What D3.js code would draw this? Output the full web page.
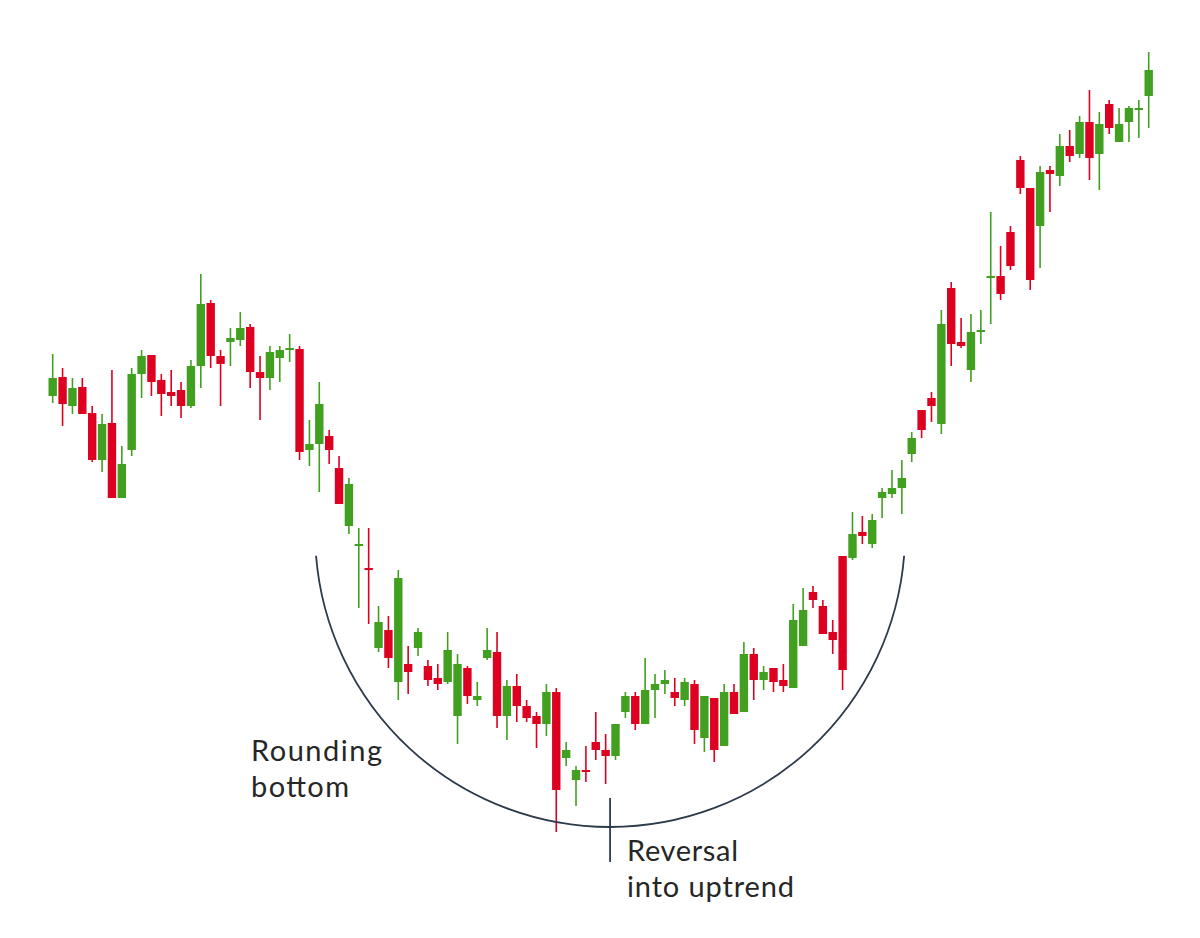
<!DOCTYPE html>
<html>
<head>
<meta charset="utf-8">
<script src="https://cdn.jsdelivr.net/npm/d3@7"></script>
<style>
  html, body { margin: 0; padding: 0; background: #fff; }
  svg { display: block; }
  text { font-family: Lato, "Noto Sans", sans-serif; }
</style>
</head>
<body>
<svg id="chart" width="1200" height="938"></svg>
<script>
// Candle data (price units), one entry per session
const openV  = [50.4,52.3,49.4,51.3,48.7,44.0,47.7,40.2,45.0,52.6,54.5,52.0,50.8,51.0,49.4,53.4,59.7,54.4,55.8,56.0,
                57.3,52.8,52.2,54.2,55.0,55.1,45.0,45.6,46.4,43.2,37.4,35.4,33.2,25.2,27.0,21.8,23.6,25.2,23.4,22.2,
                21.8,18.4,23.2,20.0,24.2,24.8,18.4,21.4,19.4,18.4,17.6,20.8,14.2,12.0,13.0,15.8,15.0,14.4,18.8,20.4,
                17.6,21.0,21.6,20.8,20.0,21.6,16.2,20.2,15.4,20.8,18.8,24.6,22.0,23.2,22.0,21.2,25.4,30.8,29.4,26.8,
                34.4,34.2,36.8,35.6,40.2,40.6,41.2,44.6,49.0,50.2,47.6,61.2,55.8,53.0,56.8,62.2,62.4,66.8,74.0,71.2,
                67.4,73.0,72.4,75.4,74.6,77.8,74.6,79.6,75.8,77.8,79.0,80.4];
const highV  = [54.6,53.2,52.2,52.2,49.4,48.6,53.0,45.4,53.2,55.0,54.5,52.6,53.0,51.8,54.0,62.6,60.0,55.0,57.2,58.8,
                57.6,54.4,55.4,55.4,56.6,55.4,48.0,51.8,47.0,44.4,42.2,37.2,37.2,29.4,28.4,33.0,25.4,27.2,24.0,23.6,
                26.8,24.6,23.4,21.8,27.2,26.8,22.0,22.6,20.0,18.8,21.6,21.2,15.8,13.4,15.4,18.8,16.6,17.6,20.8,20.8,
                24.2,22.6,23.0,22.2,22.2,22.0,20.4,20.2,21.6,21.6,25.8,25.2,23.4,23.2,23.6,29.6,31.2,31.4,30.0,28.0,
                34.4,38.8,38.4,38.6,41.2,43.0,44.0,46.8,49.0,50.8,59.0,61.8,58.2,58.6,59.0,68.8,65.4,67.4,74.4,71.2,
                73.4,73.4,76.6,77.0,78.4,81.0,78.8,80.0,79.2,79.4,80.0,84.8];
const lowV   = [49.7,47.4,48.6,48.6,43.8,42.8,40.2,40.2,44.4,50.2,50.4,48.4,49.4,48.2,49.2,51.2,53.2,49.4,53.4,55.4,
                51.2,48.0,51.0,51.8,53.8,44.0,43.4,40.8,43.6,39.6,36.6,29.2,27.6,24.8,23.2,20.0,20.6,24.4,21.4,21.0,
                21.6,15.6,19.6,19.4,24.0,17.2,16.0,17.8,17.8,15.2,16.4,6.8,13.4,9.4,11.8,14.0,11.6,14.0,18.2,17.0,
                17.6,18.2,20.6,19.4,19.4,15.6,14.8,13.8,15.4,18.6,18.8,20.0,21.0,20.8,20.8,21.2,25.4,29.2,26.6,24.6,
                21.0,34.0,35.6,35.2,38.2,40.2,38.6,43.8,46.2,47.8,46.6,53.4,55.2,51.8,55.6,57.6,60.0,63.0,70.6,61.0,
                63.2,68.8,71.4,73.8,74.2,72.0,71.0,76.6,75.8,75.8,76.2,77.2];
const closeV = [52.2,49.6,51.2,48.6,44.0,47.6,40.2,43.6,52.6,54.4,51.8,50.6,50.4,49.4,53.4,59.6,54.4,53.6,56.2,57.2,
                52.8,52.2,54.8,55.0,55.2,44.8,45.6,49.6,45.0,39.6,41.6,35.6,33.0,27.8,24.2,32.2,22.8,26.8,22.0,21.6,
                25.0,23.6,20.4,20.4,25.0,18.4,21.4,19.4,18.2,17.6,20.8,11.0,15.0,13.0,12.8,15.0,14.4,17.6,20.4,17.6,
                21.0,21.6,22.0,20.2,21.8,17.0,20.4,15.0,20.8,18.6,24.6,22.0,22.8,21.8,21.4,28.0,29.0,30.0,26.6,26.0,
                23.0,36.6,36.4,38.0,40.8,41.2,42.2,46.2,47.0,49.4,57.6,55.6,55.4,56.8,57.0,62.4,60.6,63.4,71.2,62.0,
                72.8,72.6,75.4,74.4,77.8,74.2,77.6,77.2,77.6,79.2,79.2,83.0];

// Annotation labels
const leftLabel  = ["Rounding", "bottom"];
const rightLabel = ["Reversal", "into uptrend"];

const candles = openV.map((o, i) => ({ i, open: o, high: highV[i], low: lowV[i], close: closeV[i] }));

const svg = d3.select("#chart");
const x = d3.scalePoint().domain(d3.range(candles.length)).range([52.7, 1148.7]);
const y = d3.scaleLinear().domain([0, 90]).range([900, 0]);
const step = x.step();
const bodyW = step * 0.85;

const UP = "#41a01f", DOWN = "#dd0020";
const col = d => d.close >= d.open ? UP : DOWN;

const g = svg.append("g");
// wicks
g.selectAll("line.wick").data(candles).join("line")
  .attr("class", "wick")
  .attr("x1", d => x(d.i)).attr("x2", d => x(d.i))
  .attr("y1", d => y(d.high)).attr("y2", d => y(d.low))
  .attr("stroke", col).attr("stroke-width", 1.6);
// bodies
g.selectAll("rect.body").data(candles).join("rect")
  .attr("class", "body")
  .attr("x", d => x(d.i) - bodyW / 2)
  .attr("width", bodyW)
  .attr("y", d => y(Math.max(d.open, d.close)))
  .attr("height", d => Math.max(1.8, Math.abs(y(d.open) - y(d.close))))
  .attr("fill", col);

// Rounding-bottom arc (center in index/price space)
const arcCenterIdx = 56.45, arcCenterPrice = 36.8, arcRadiusPrice = 29.5, arcHalfSpan = 29.78;
const cx = x(0) + arcCenterIdx * step, cy = y(arcCenterPrice);
const r = y(0) - y(arcRadiusPrice);
const halfW = arcHalfSpan * step;
const dy = Math.sqrt(Math.max(0, r * r - halfW * halfW));
const a0 = Math.atan2(dy, -halfW), a1 = Math.atan2(dy, halfW);
const p = d3.path();
p.arc(cx, cy, r, a0, a1, true);
svg.append("path").attr("d", p.toString())
  .attr("fill", "none").attr("stroke", "#2c3a4a").attr("stroke-width", 1.8);

// reversal marker
svg.append("line")
  .attr("x1", cx).attr("x2", cx)
  .attr("y1", y(10.2)).attr("y2", y(3.8))
  .attr("stroke", "#2c3a4a").attr("stroke-width", 1.8);

// labels (widths matched to reference)
const fs = 29, lh = 35.7;
const leftWidths = [131, 98], rightWidths = [111, 167];
function label(lines, widths, x0, y0) {
  svg.append("g").selectAll("text").data(lines).join("text")
    .attr("x", x0).attr("y", (d, i) => y0 + i * lh)
    .attr("font-size", fs).attr("fill", "#262626")
    .attr("textLength", (d, i) => widths[i]).attr("lengthAdjust", "spacing")
    .text(d => d);
}
label(leftLabel, leftWidths, 251, 761);
label(rightLabel, rightWidths, 627, 861);
</script>
</body>
</html>
